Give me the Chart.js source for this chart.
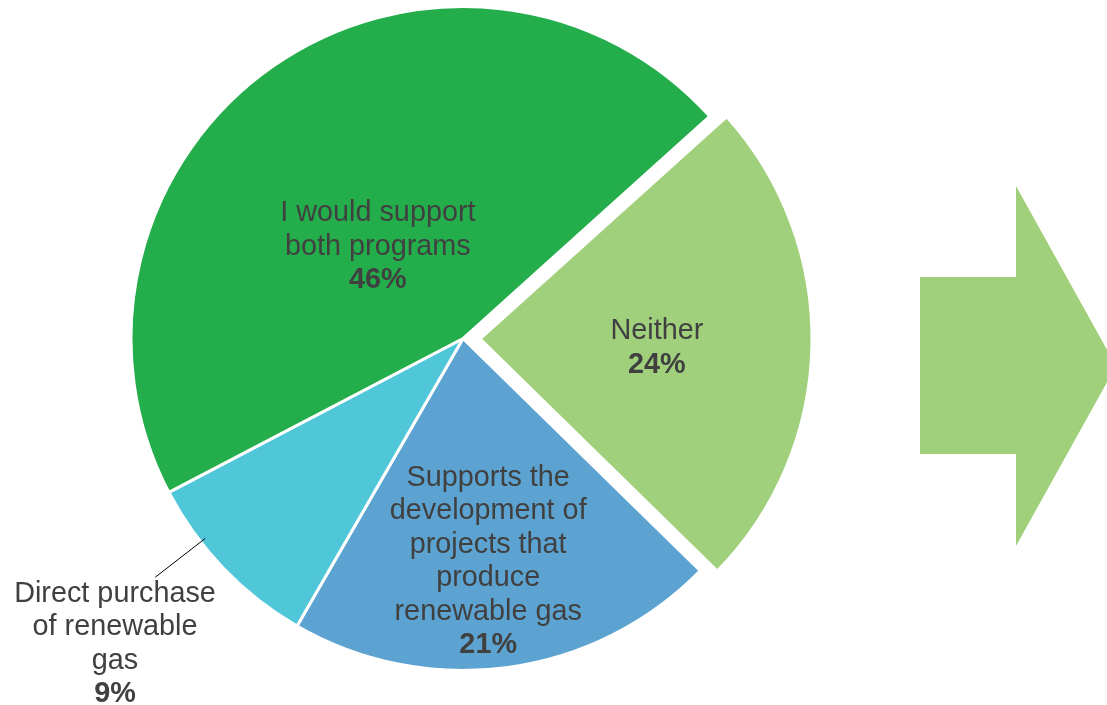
<!DOCTYPE html>
<html>
<head>
<meta charset="utf-8">
<script src="https://cdn.jsdelivr.net/npm/chart.js@4/dist/chart.umd.min.js"></script>
<style>
  html, body { margin: 0; padding: 0; background: #ffffff; }
  #wrap { position: relative; width: 1107px; height: 705px; }
</style>
</head>
<body>
<div id="wrap"><canvas id="c"></canvas></div>
<script>
// Survey answers, clockwise from the upper-right slice
const categories = [
  'Neither',
  'Supports the development of projects that produce renewable gas',
  'Direct purchase of renewable gas',
  'I would support both programs'
];
const shares = [24, 21, 9, 46];
const labelLines = [
  ['Neither'],
  ['Supports the', 'development of', 'projects that', 'produce', 'renewable gas'],
  ['Direct purchase', 'of renewable', 'gas'],
  ['I would support', 'both programs']
];

const sliceColors = ['#a0d07c', '#5ca3d2', '#50c7d9', '#24ae4b'];
const sliceOffsets = [68, 0, 0, 0];
const TEXT = '#404040';
const FONT_FAMILY = '"Liberation Sans", Arial, Helvetica, sans-serif';
const FONT_PX = 28.8;
const LINE_H = 33.5;
const TEXT_NUDGE_Y = 2;
const START_ANGLE = 48;

// Label placement: fraction of the radius and angular shift (degrees) from the slice middle
const labelPlace = [
  { r: 0.533, da: 1.1 },
  { r: 0.67, da: 1.3 },
  { r: 1.391, da: 2.7, leader: { from: 0.983, to: 1.173, da: 6.0 } },
  { r: 0.381, da: -7.5 }
];

// Big right-pointing arrow beside the pie
const arrowPlugin = {
  id: 'arrow',
  beforeDatasetsDraw(chart) {
    const ctx = chart.ctx;
    ctx.save();
    ctx.fillStyle = '#a0d07c';
    ctx.beginPath();
    ctx.moveTo(920, 277);
    ctx.lineTo(1016, 277);
    ctx.lineTo(1016, 186);
    ctx.lineTo(1116, 366);
    ctx.lineTo(1016, 546);
    ctx.lineTo(1016, 454);
    ctx.lineTo(920, 454);
    ctx.closePath();
    ctx.fill();
    ctx.restore();
  }
};

// Category names and percentages inside / beside each slice
const sliceLabelPlugin = {
  id: 'sliceLabels',
  afterDatasetsDraw(chart) {
    const ctx = chart.ctx;
    const meta = chart.getDatasetMeta(0);
    ctx.save();
    ctx.fillStyle = TEXT;
    ctx.textAlign = 'center';
    ctx.textBaseline = 'middle';
    meta.data.forEach((arc, i) => {
      const p = arc.getProps(['x', 'y', 'startAngle', 'endAngle', 'outerRadius', 'circumference'], true);
      const mid = (p.startAngle + p.endAngle) / 2;
      const off = (arc.options.offset || 0) / 4;
      const fix = 1 - Math.sin(Math.min(Math.PI, p.circumference || 0));
      const shift = off + off * fix;
      const cx = p.x + Math.cos(mid) * shift;
      const cy = p.y + Math.sin(mid) * shift;
      const place = labelPlace[i];
      const a = mid + place.da * Math.PI / 180;
      const lx = cx + Math.cos(a) * place.r * p.outerRadius;
      const ly = cy + Math.sin(a) * place.r * p.outerRadius + TEXT_NUDGE_Y;

      if (place.leader) {
        const la = mid + place.leader.da * Math.PI / 180;
        ctx.strokeStyle = '#000000';
        ctx.lineWidth = 1;
        ctx.beginPath();
        ctx.moveTo(cx + Math.cos(la) * place.leader.from * p.outerRadius, cy + Math.sin(la) * place.leader.from * p.outerRadius);
        ctx.lineTo(cx + Math.cos(la) * place.leader.to * p.outerRadius, cy + Math.sin(la) * place.leader.to * p.outerRadius);
        ctx.stroke();
      }

      const lines = labelLines[i];
      const n = lines.length + 1;
      const top = ly - (n - 1) * LINE_H / 2;
      ctx.font = FONT_PX + 'px ' + FONT_FAMILY;
      lines.forEach((t, k) => ctx.fillText(t, lx, top + k * LINE_H));
      ctx.font = 'bold ' + FONT_PX + 'px ' + FONT_FAMILY;
      ctx.fillText(shares[i] + '%', lx, top + lines.length * LINE_H);
    });
    ctx.restore();
  }
};

new Chart(document.getElementById('c'), {
  type: 'pie',
  data: {
    labels: categories,
    datasets: [{
      data: shares,
      backgroundColor: sliceColors,
      borderColor: '#ffffff',
      borderWidth: 3,
      offset: sliceOffsets,
      radius: 332,
      clip: false
    }]
  },
  options: {
    responsive: true,
    maintainAspectRatio: false,
    animation: false,
    events: [],
    rotation: START_ANGLE,
    layout: { padding: { left: 0, right: 181, top: 0, bottom: 28 } },
    plugins: {
      legend: { display: false },
      tooltip: { enabled: false }
    }
  },
  plugins: [arrowPlugin, sliceLabelPlugin]
});
</script>
</body>
</html>
